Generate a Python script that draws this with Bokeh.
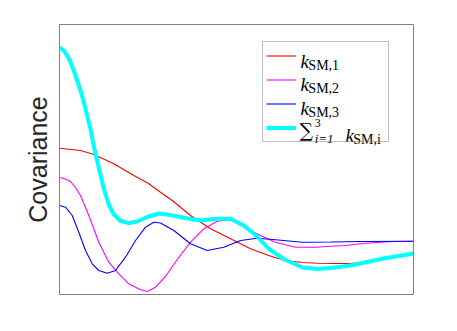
from bokeh.plotting import figure
from bokeh.models import Range1d, FixedTicker, Legend, LegendItem, Label
from bokeh.embed import file_html
from bokeh.resources import INLINE

# lag axis (0..10) and covariance values
x_red = [0.0, 0.593, 0.969, 1.534, 2.099, 2.514, 2.853, 3.184, 3.701, 4.266, 4.831, 5.395,
         5.904, 6.384, 6.856, 7.316, 7.797, 8.220, 8.644, 9.153, 9.576, 10.0]
y_red = [0.933, 0.91, 0.87, 0.777, 0.66, 0.58, 0.493, 0.41, 0.26, 0.127, 0.027, -0.073,
         -0.14, -0.19, -0.21, -0.218, -0.22, -0.22, -0.205, -0.17, -0.145, -0.12]

x_mag = [0.0, 0.169, 0.311, 0.452, 0.593, 0.828, 1.110, 1.393, 1.675, 1.958, 2.288, 2.477,
         2.712, 2.994, 3.325, 3.701, 4.076, 4.455, 4.831, 5.302, 5.678, 6.102, 6.667, 7.232,
         7.655, 8.079, 8.644, 9.398, 10.0]
y_mag = [0.64, 0.625, 0.60, 0.54, 0.46, 0.26, -0.007, -0.207, -0.323, -0.423, -0.483, -0.50,
         -0.457, -0.35, -0.18, -0.007, 0.127, 0.203, 0.217, 0.127, 0.06, -0.007, -0.057, -0.057,
         -0.047, -0.04, -0.017, 0.0, 0.003]

x_blue = [0.0, 0.169, 0.359, 0.545, 0.734, 0.924, 1.110, 1.347, 1.582, 1.864, 2.147, 2.429,
          2.664, 2.853, 3.229, 3.701, 4.172, 4.641, 5.113, 5.585, 6.102, 6.856, 7.655, 8.503, 10.0]
y_blue = [0.36, 0.343, 0.26, 0.093, -0.09, -0.223, -0.29, -0.317, -0.29, -0.157, 0.01, 0.143,
          0.193, 0.185, 0.11, -0.023, -0.09, -0.057, 0.01, 0.033, 0.017, -0.007, -0.005, 0.0, 0.003]

x_sum = [0.0, 0.121, 0.218, 0.311, 0.404, 0.5, 0.593, 0.686, 0.782, 0.876, 0.969, 1.110,
         1.251, 1.393, 1.534, 1.723, 1.958, 2.195, 2.477, 2.805, 3.136, 3.511, 3.983, 4.455,
         4.831, 5.206, 5.585, 5.904, 6.328, 6.864, 7.260, 7.655, 8.220, 9.153, 10.0]
y_sum = [1.942, 1.91, 1.86, 1.793, 1.71, 1.61, 1.51, 1.393, 1.26, 1.125, 0.95, 0.74,
         0.53, 0.37, 0.27, 0.205, 0.185, 0.20, 0.245, 0.28, 0.265, 0.237, 0.21, 0.227,
         0.227, 0.16, 0.05, -0.07, -0.175, -0.26, -0.275, -0.265, -0.24, -0.17, -0.12]

p = figure(width=449, height=323, output_backend="svg", toolbar_location=None,
           x_range=Range1d(0, 10), y_range=Range1d(-0.53, 2.17),
           min_border_left=59, min_border_right=36, min_border_top=24, min_border_bottom=29)
p.background_fill_color = "white"
p.border_fill_color = "white"
p.outline_line_color = "#808080"
p.outline_line_width = 1
p.grid.visible = False
p.xaxis.visible = False

p.yaxis.ticker = FixedTicker(ticks=[])
p.yaxis.axis_line_color = None
p.yaxis.major_tick_line_color = None
p.yaxis.minor_tick_line_color = None
p.yaxis.major_tick_out = 0
p.yaxis.major_label_standoff = 0
p.yaxis.axis_label = "Covariance"
p.yaxis.axis_label_text_font = "Liberation Sans"
p.yaxis.axis_label_text_font_style = "normal"
p.yaxis.axis_label_text_font_size = "25px"
p.yaxis.axis_label_text_color = "#262626"
p.yaxis.axis_label_standoff = 8

r1 = p.line(x_red, y_red, line_color="#ff0000", line_width=1.1)
r2 = p.line(x_mag, y_mag, line_color="#ff00ff", line_width=1.1)
r3 = p.line(x_blue, y_blue, line_color="#0000ff", line_width=1.1)
r4 = p.line(x_sum, y_sum, line_color="#00ffff", line_width=4)

legend = Legend(items=[LegendItem(label=" ", renderers=[r]) for r in (r1, r2, r3, r4)],
                location=(203, 152), glyph_width=30, glyph_height=21, label_height=21,
                label_width=84, label_standoff=5, spacing=3, padding=3, margin=0,
                border_line_color="#808080", border_line_width=1,
                label_text_font_size="6px", background_fill_alpha=0)
p.add_layout(legend, "center")

serif = "Liberation Serif"
def lab(x, y, t, size, style="normal", font=serif):
    p.add_layout(Label(x=x, y=y, text=t, text_font=font, text_font_size=size,
                       text_font_style=style, text_color="black", level="overlay",
                       text_align="left", text_baseline="alphabetic"))

for yk, ys, num in ((1.803, 1.765, "1"), (1.566, 1.528, "2"), (1.329, 1.291, "3")):
    lab(6.808, yk, "k", "19px", "italic")
    lab(7.03, ys, "SM," + num, "14px")

lab(6.78, 1.12, "\u2211", "19px", font="DejaVu Serif")
lab(7.21, 1.19, "3", "12px")
lab(7.21, 1.035, "i=1", "13px", "italic")
lab(8.079, 1.06, "k", "19px", "italic")
lab(8.30, 1.02, "SM,i", "14px")

open("out.html", "w").write(file_html(p, INLINE))
